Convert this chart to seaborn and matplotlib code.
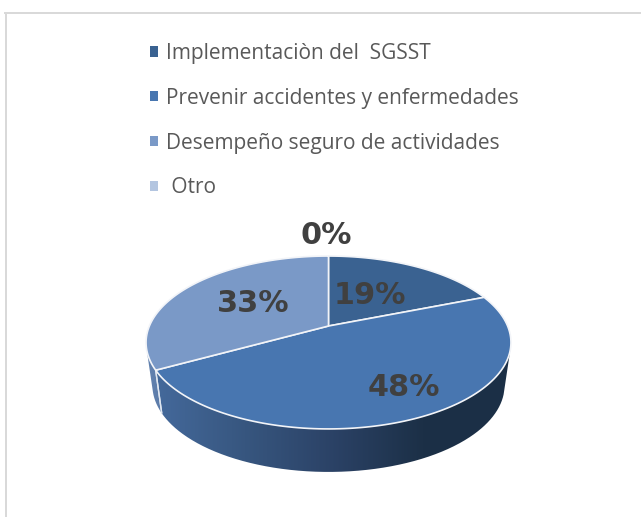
import numpy as np
import matplotlib
matplotlib.use("Agg")
import matplotlib.pyplot as plt
import seaborn as sns
from matplotlib.patches import PathPatch, Rectangle
from matplotlib.path import Path
from matplotlib.transforms import Affine2D
from matplotlib.colors import LinearSegmentedColormap

categories = ["Implementaciòn del  SGSST", "Prevenir accidentes y enfermedades",
              "Desempeño seguro de actividades", " Otro"]
values = [19, 48, 33, 0]
value_labels = ["19%", "48%", "33%", "0%"]
top_colors = ["#3a6291", "#4876b0", "#7a99c7", "#b3c5e0"]
wall_stops = [
    ["#1b2f46", "#1b2f46"],
    ["#44699b", "#37567f", "#2b4266", "#1c3047", "#1b2f46"],
    ["#6483b0", "#5a7aa8"],
    ["#b3c5e0", "#b3c5e0"],
]

sns.set_theme(style="white")
palette = sns.color_palette(top_colors)

W, H = 641, 517
fig = plt.figure(figsize=(W / 100, H / 100), dpi=100, facecolor="white")
L, T = 5.5, 13
ax = fig.add_axes([L / W, 0, (W - L) / W, (H - T) / H])

# perspective of the disc seen from above
CX, APEX_Y, A, B, K = 328.5, 326.0, 179.1, 83.3, 0.1907
DEPTH_Y, DEPTH_SX = 43.0, 0.965


def project(xy, depth=False):
    X, Y = xy[:, 0], xy[:, 1]
    d = 1 + K * Y
    s = DEPTH_SX if depth else 1.0
    oy = DEPTH_Y if depth else 0.0
    return np.column_stack([CX + s * A * X / d, APEX_Y + oy - B * Y / d])


wedges, _ = ax.pie(values, colors=palette, startangle=90, counterclock=False,
                   radius=1, normalize=True)

# side wall of each slice: the rim swept down, filled with a left-to-right gradient
for w, stops in zip(wedges, wall_stops):
    if w.theta2 - w.theta1 <= 0:
        continue
    cmap = LinearSegmentedColormap.from_list("wall", stops)
    ang = np.radians(np.linspace(w.theta1, w.theta2, 600))
    rim = np.column_stack([np.cos(ang), np.sin(ang)])
    top, bot = project(rim), project(rim, True)
    # keep only the front-facing part of the rim
    t = np.gradient(top, axis=0)
    s = bot - top
    front = (t[:, 0] * s[:, 1] - t[:, 1] * s[:, 0]) > 0
    if front.sum() < 2:
        continue
    outline = np.vstack([top[front], bot[front][::-1], top[front][:1]])
    ext = [outline[:, 0].min(), outline[:, 0].max(), outline[:, 1].max(), outline[:, 1].min()]
    img = ax.imshow(np.linspace(0, 1, 400)[None, :], cmap=cmap, extent=ext, aspect="auto",
                    zorder=2, interpolation="bilinear")
    clip = PathPatch(Path(outline), transform=ax.transData, facecolor="none", edgecolor="none")
    ax.add_patch(clip)
    img.set_clip_path(clip)

# light seam on the wall where two slices meet
for w in wedges:
    if w.theta2 - w.theta1 <= 0:
        continue
    for th in (w.theta1, w.theta2):
        p = np.array([[np.cos(np.radians(th)), np.sin(np.radians(th))]])
        if p[0, 1] < -0.05:
            a, b = project(p), project(p, True)
            ax.plot([a[0, 0], b[0, 0]], [a[0, 1], b[0, 1]], color="#dfe6f0", lw=1.0, zorder=3)

# top face: the pie wedges through the perspective
for w, col in zip(wedges, palette):
    if w.theta2 - w.theta1 > 0:
        scale = Affine2D().scale(2000)
        path = (w.get_patch_transform() + scale).transform_path(w.get_path())
        poly = path.to_polygons(closed_only=True)[0] / 2000.0
        ax.add_patch(PathPatch(Path(project(poly)), facecolor=col, edgecolor="#f2f4f8",
                               lw=1.2, zorder=4, joinstyle="round"))
    w.remove()

ax.set_aspect("auto")
ax.set_xlim(L, W)
ax.set_ylim(H, T)

label_pos = [(370, 295), (404, 387), (253.5, 304), (326, 236)]
for txt, (x, y) in zip(value_labels, label_pos):
    ax.text(x, y, txt, ha="center", va="center", fontsize=21.8, fontweight="bold",
            family="DejaVu Sans", color="#404040", zorder=6)

handles = [Rectangle((0, 0), 1, 1, facecolor=c, edgecolor="none") for c in palette]
leg = ax.legend(handles, categories, loc="upper left", bbox_to_anchor=(150 / W, 1 - 43 / H),
                bbox_transform=fig.transFigure, frameon=False, ncol=1,
                prop={"family": "Open Sans", "size": 15}, labelcolor="#595959",
                handlelength=0.38, handleheight=0.38, handletextpad=0.406,
                labelspacing=1.14, borderpad=0, borderaxespad=0)

ax.set_axis_on()
ax.set_frame_on(True)
ax.set_xticks([])
ax.set_yticks([])
ax.grid(False)
ax.patch.set_visible(False)
for name, sp in ax.spines.items():
    sp.set_visible(name in ("left", "top"))
    sp.set_color("#d9d9d9")
    sp.set_linewidth(1.44)

fig.savefig("out.png", dpi=100, facecolor="white")
